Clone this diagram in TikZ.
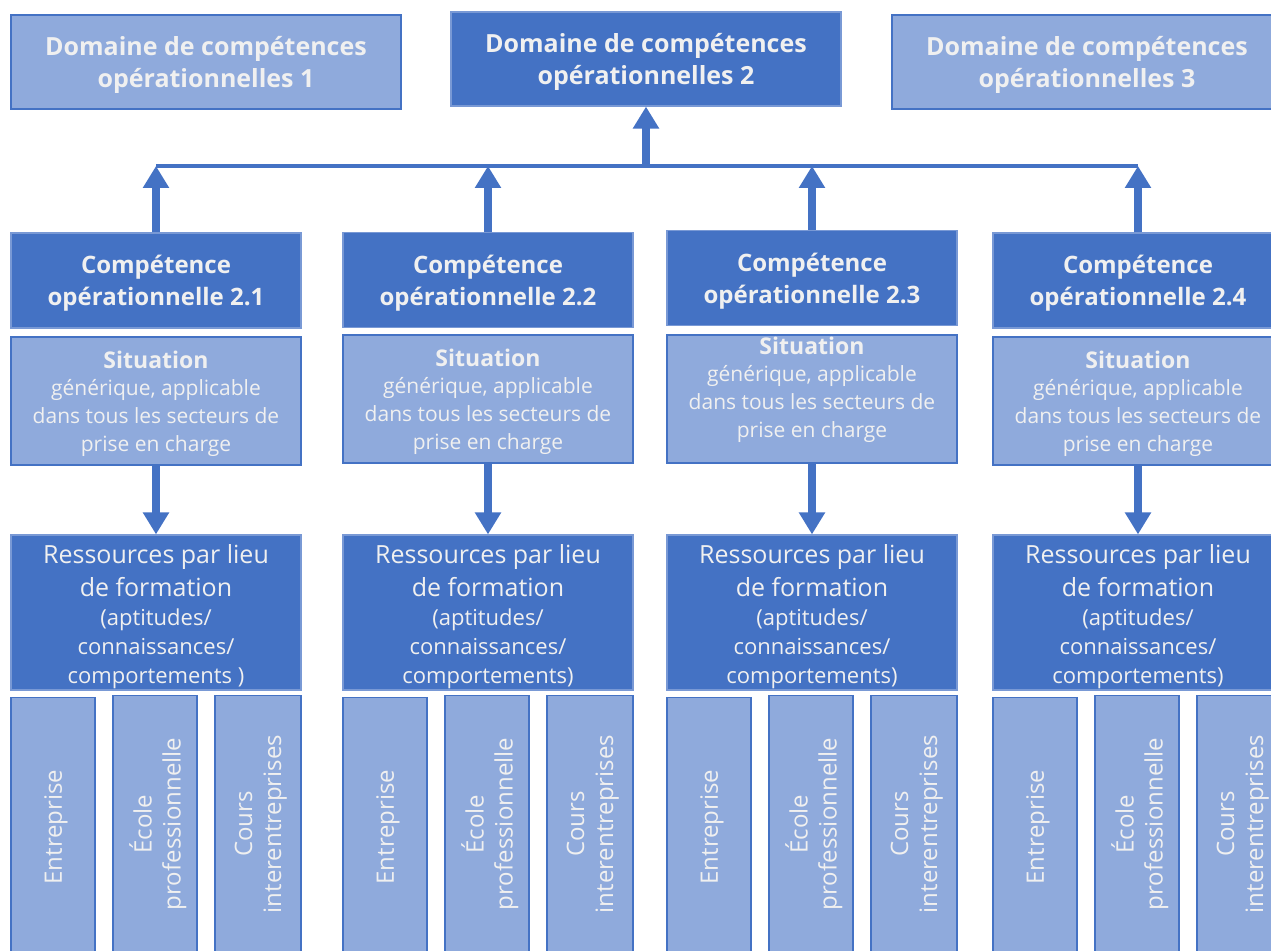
\documentclass[tikz,border=0pt]{standalone}
\usepackage{fontspec}
\setmainfont{Open Sans}
\usepackage{tikz}
\usetikzlibrary{arrows.meta}
\definecolor{bluedark}{HTML}{4472C4}
\definecolor{bluelight}{HTML}{8FAADC}
\definecolor{boxtext}{HTML}{F0F0F0}
\tikzset{
	box/.style={rectangle,inner sep=0pt,align=center,text=boxtext,text depth=0pt,line width=0.6pt},
	darkbox/.style={box,fill=bluedark,draw=bluelight!70!bluedark},
	lightbox/.style={box,fill=bluelight,draw=bluedark},
	flow/.style={draw=bluedark,line width=3.8pt,-{Triangle[width=12.5pt,length=11pt]}},
}

\begin{document}
\begin{tikzpicture}[x=0.5pt,y=-0.5pt]
		% fix the page to the reference size (1271 x 951 px)
		\useasboundingbox (0,0) rectangle (1271,951);
		\clip (0,0) rectangle (1271,951);
		
		% the three domains
		\node[lightbox,minimum width=195pt,minimum height=47pt,font=\bfseries\fontsize{12.5}{16}\selectfont] (dom1) at (206,62) {Domaine de compétences\\opérationnelles 1};
		\node[darkbox,minimum width=195pt,minimum height=47pt,font=\bfseries\fontsize{12.5}{16}\selectfont] (dom2) at (646,59) {Domaine de compétences\\opérationnelles 2};
		\node[lightbox,minimum width=195pt,minimum height=47pt,font=\bfseries\fontsize{12.5}{16}\selectfont] (dom3) at (1087,62) {Domaine de compétences\\opérationnelles 3};
		
		% one column per competence: number / centre x / y of competence / y of situation / y shift of situation text
		\foreach \i/\cx/\cy/\sy/\st in {1/156/280.5/401/0, 2/488/280/399/0, 3/812/278/399/6, 4/1138/280.5/401/0}{
			\node[darkbox,minimum width=145pt,minimum height=47.5pt,font=\bfseries\fontsize{12}{16}\selectfont] (comp\i) at (\cx,\cy) {Compétence\\opérationnelle 2.\i};
			\node[lightbox,minimum width=145pt,minimum height=64pt] (sit\i) at (\cx,\sy) {};
			\node[box,font=\fontsize{10.5}{13.8}\selectfont] (sittext\i) at (\cx,\sy-2*\st) {{\bfseries\fontsize{11.5}{13.8}\selectfont Situation}\\générique, applicable\\dans tous les secteurs de\\prise en charge};
			\node[darkbox,minimum width=145pt,minimum height=77.5pt] (res\i) at (\cx,612.5) {};
			\coordinate (bus\i) at (\cx,166);
			
			% places of training, written upwards
			\node[lightbox,minimum width=42pt,minimum height=135pt,anchor=north] (ent\i) at (\cx-103,697) {};
			\node[lightbox,minimum width=42pt,minimum height=136pt,anchor=north] (ecole\i) at (\cx-1,695) {};
			\node[lightbox,minimum width=43pt,minimum height=136pt,anchor=north] (cours\i) at (\cx+102,695) {};
			\node[box,rotate=90,font=\fontsize{12}{14.5}\selectfont] at (\cx-103,827) {Entreprise};
			\node[box,rotate=90,font=\fontsize{12}{14.5}\selectfont] at (\cx-1,824) {École\\professionnelle};
			\node[box,rotate=90,font=\fontsize{12}{14.5}\selectfont] at (\cx+102,824) {Cours\\interentreprises};
			
			% arrows: competence up to the bus, situation down to resources
			\draw[flow] (comp\i.north) -- (bus\i);
			\draw[flow] (sit\i.south) -- (res\i.north);
		}
		
		% text of the resource boxes (first one has a space before the bracket)
		\foreach \i/\cx/\br in {1/156/{ )}, 2/488/), 3/812/), 4/1138/)}{
			\node[box,font=\fontsize{11}{14.5}\selectfont] (restext\i) at (\cx,614) {{\fontsize{12.5}{16.5}\selectfont Ressources par lieu}\\[2pt]{\fontsize{12.5}{16.5}\selectfont de formation}\\(aptitudes/\\connaissances/\\comportements\br};
		}
		
		% the bus line and the arrow up to domain 2
		\draw[bluedark,line width=1.8pt] (bus1) -- (bus4);
		\coordinate (busmid) at (dom2.south |- bus1);
		\draw[flow] (busmid) -- (dom2.south);
		
\end{tikzpicture}
\end{document}
